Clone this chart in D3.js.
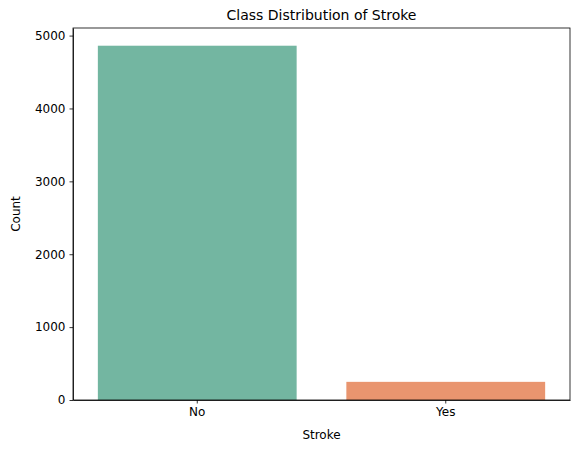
<!DOCTYPE html>
<html><head><meta charset="utf-8">
<script src="https://cdn.jsdelivr.net/npm/d3@7"></script>
<style>body{margin:0;background:#fff}text{font-family:"DejaVu Sans",sans-serif}</style>
</head><body><div id="chart"></div>
<script>
const categories = ["No", "Yes"];
const counts = [4861, 249];
const colors = ["#73b6a1", "#e9956f"];
const yTicks = [0, 1000, 2000, 3000, 4000, 5000];

const margin = {top: 28, right: 10, bottom: 53, left: 73};
const width = 580 - margin.left - margin.right;
const height = 453 - margin.top - margin.bottom;

const root = d3.select("#chart").append("svg").attr("width", 580).attr("height", 453);
const svg = root.append("g").attr("transform", `translate(${margin.left},${margin.top})`);

const x = d3.scaleBand().domain(categories).range([0, width]).paddingInner(0.2).paddingOuter(0.1);
const y = d3.scaleLinear().domain([0, d3.max(counts) * 1.05]).range([height, 0]);

svg.selectAll(".bar").data(categories).enter().append("rect")
  .attr("x", d => x(d)).attr("width", x.bandwidth())
  .attr("y", (d, i) => y(counts[i])).attr("height", (d, i) => height - y(counts[i]))
  .attr("fill", (d, i) => colors[i]);

const xAxis = svg.append("g").attr("transform", `translate(0,${height})`)
  .call(d3.axisBottom(x).tickSize(3.5).tickSizeOuter(0).tickPadding(4));
const yAxis = svg.append("g")
  .call(d3.axisLeft(y).tickValues(yTicks).tickFormat(d3.format("d")).tickSize(3.5).tickSizeOuter(0).tickPadding(4));
[xAxis, yAxis].forEach(a => {
  a.selectAll("text").attr("font-size", 12).attr("fill", "#000");
  a.selectAll("line,path").attr("stroke", "#000").attr("stroke-width", 0.8);
});
svg.append("rect").attr("width", width).attr("height", height)
  .attr("fill", "none").attr("stroke", "#000").attr("stroke-width", 0.8);

svg.append("text").attr("x", width / 2).attr("y", -8).attr("text-anchor", "middle")
  .attr("font-size", 14).text("Class Distribution of Stroke");
svg.append("text").attr("x", width / 2).attr("y", height + 39).attr("text-anchor", "middle")
  .attr("font-size", 12).text("Stroke");
svg.append("text").attr("transform", `translate(-53,${height / 2}) rotate(-90)`)
  .attr("text-anchor", "middle").attr("font-size", 12).text("Count");
</script></body></html>
